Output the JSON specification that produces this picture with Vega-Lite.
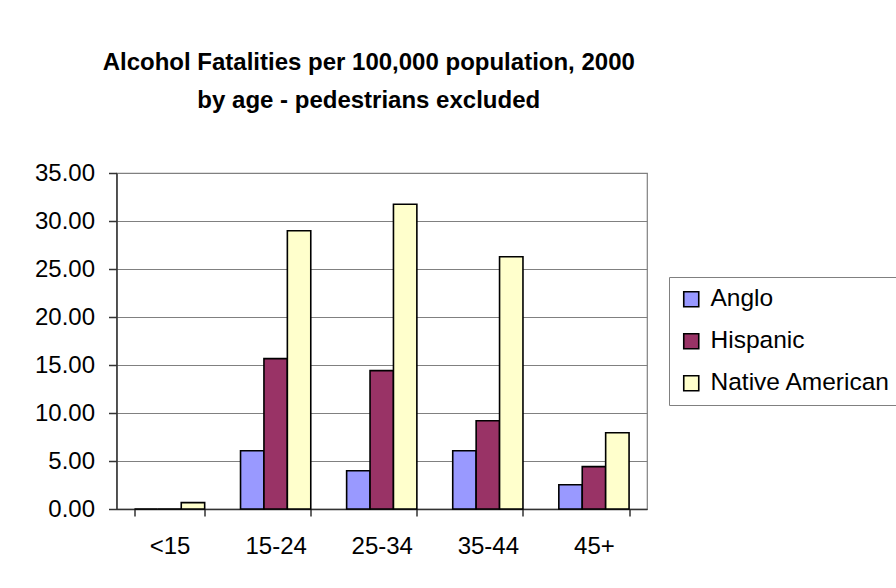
{
  "$schema": "https://vega.github.io/schema/vega-lite/v6.json",
  "width": 530.5,
  "height": 336,
  "autosize": {"type": "none"},
  "padding": {"left": 116.5, "top": 173, "right": 249, "bottom": 79},
  "background": "white",
  "config": {
    "font": "Liberation Sans",
    "view": {"stroke": "#808080", "strokeWidth": 1.2},
    "axis": {
      "labelFont": "Liberation Sans",
      "labelFontSize": 24,
      "labelColor": "black",
      "domainColor": "#333333",
      "domainWidth": 1.5,
      "tickColor": "#333333",
      "tickWidth": 1.5,
      "title": null
    },
    "legend": {
      "labelFont": "Liberation Sans",
      "labelFontSize": 24.5,
      "labelColor": "black"
    }
  },
  "title": {
    "text": ["Alcohol Fatalities per 100,000 population, 2000", "by age - pedestrians excluded"],
    "font": "Liberation Sans",
    "fontSize": 24,
    "fontWeight": "bold",
    "color": "black",
    "lineHeight": 38,
    "anchor": "middle",
    "frame": "group",
    "dx": -13,
    "offset": 48
  },
  "data": {
    "values": [
      {"age": "<15", "group": "Anglo", "rate": 0},
      {"age": "<15", "group": "Hispanic", "rate": 0},
      {"age": "<15", "group": "Native American", "rate": 0.66},
      {"age": "15-24", "group": "Anglo", "rate": 6.07},
      {"age": "15-24", "group": "Hispanic", "rate": 15.66},
      {"age": "15-24", "group": "Native American", "rate": 28.99},
      {"age": "25-34", "group": "Anglo", "rate": 3.99},
      {"age": "25-34", "group": "Hispanic", "rate": 14.41},
      {"age": "25-34", "group": "Native American", "rate": 31.74},
      {"age": "35-44", "group": "Anglo", "rate": 6.07},
      {"age": "35-44", "group": "Hispanic", "rate": 9.2},
      {"age": "35-44", "group": "Native American", "rate": 26.28},
      {"age": "45+", "group": "Anglo", "rate": 2.53},
      {"age": "45+", "group": "Hispanic", "rate": 4.41},
      {"age": "45+", "group": "Native American", "rate": 7.95}
    ]
  },
  "mark": {"type": "bar", "stroke": "black", "strokeWidth": 1.6},
  "encoding": {
    "x": {
      "field": "age",
      "type": "nominal",
      "sort": ["<15", "15-24", "25-34", "35-44", "45+"],
      "scale": {"paddingInner": 0.338, "paddingOuter": 0.169},
      "axis": {
        "labelAngle": 0,
        "tickBand": "extent",
        "tickSize": 7,
        "labelPadding": 18,
        "grid": false
      }
    },
    "xOffset": {
      "field": "group",
      "type": "nominal",
      "sort": ["Anglo", "Hispanic", "Native American"],
      "scale": {"paddingInner": 0, "paddingOuter": 0}
    },
    "y": {
      "field": "rate",
      "type": "quantitative",
      "scale": {"domain": [0, 35], "nice": false},
      "axis": {
        "values": [0, 5, 10, 15, 20, 25, 30, 35],
        "format": ".2f",
        "tickSize": 8,
        "labelPadding": 14,
        "grid": true,
        "gridColor": "#808080",
        "gridWidth": 1.2
      }
    },
    "color": {
      "field": "group",
      "type": "nominal",
      "sort": ["Anglo", "Hispanic", "Native American"],
      "scale": {
        "domain": ["Anglo", "Hispanic", "Native American"],
        "range": ["#9999FF", "#993366", "#FFFFCC"]
      },
      "legend": {
        "title": null,
        "orient": "none",
        "legendX": 552.5,
        "legendY": 104,
        "symbolType": "square",
        "symbolSize": 225,
        "symbolStrokeColor": "black",
        "symbolStrokeWidth": 1.6,
        "symbolOpacity": 1,
        "labelOffset": 7,
        "labelLimit": 400,
        "rowPadding": 17,
        "padding": 10,
        "strokeColor": "#808080",
        "fillColor": "white"
      }
    }
  }
}
